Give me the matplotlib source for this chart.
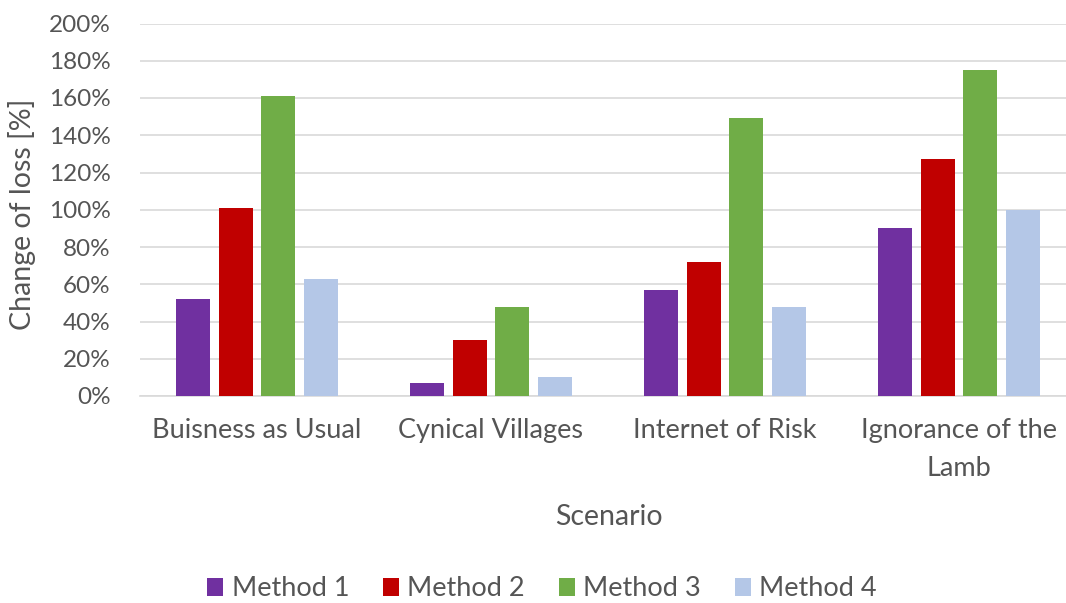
import matplotlib
matplotlib.use("Agg")
import matplotlib.pyplot as plt
from matplotlib.patches import Patch
import numpy as np

plt.rcParams['font.family'] = ['Lato', 'DejaVu Sans']

scenarios = ["Buisness as Usual", "Cynical Villages", "Internet of Risk", "Ignorance of the\nLamb"]
methods = ["Method 1", "Method 2", "Method 3", "Method 4"]
method1 = [52, 7, 57, 90]
method2 = [101, 30, 72, 127]
method3 = [161, 48, 149, 175]
method4 = [63, 10, 48, 100]
series = [method1, method2, method3, method4]
colors = ["#7030A0", "#C00000", "#70AD47", "#B4C7E7"]
yticks = [0, 20, 40, 60, 80, 100, 120, 140, 160, 180, 200]

text_color = "#555555"
W, H = 1066, 603
fig = plt.figure(figsize=(W / 100, H / 100), dpi=100)
ax = fig.add_axes([140 / W, 1 - 396 / H, (1066 - 140) / W, (396 - 23.5) / H])

x = np.arange(len(scenarios))
pitch = 0.1816
width = 0.146
for i, (vals, col) in enumerate(zip(series, colors)):
    ax.bar(x + (i - 1.5) * pitch, vals, width=width, color=col, zorder=3,
           label=methods[i])

ax.set_xlim(-0.5, -0.5 + (1066 - 140) / 234)
ax.set_ylim(0, 200)
ax.set_yticks(yticks)
ax.set_yticklabels([f"{v}%" for v in yticks])
ax.set_xticks(x)
ax.set_xticklabels(scenarios, linespacing=1.65)
ax.yaxis.grid(True, color="#D9D9D9", linewidth=1.2, zorder=0)
ax.set_axisbelow(True)
for side in ["top", "right", "left"]:
    ax.spines[side].set_visible(False)
ax.spines["bottom"].set_color("#D9D9D9")
ax.spines["bottom"].set_linewidth(1.2)
ax.tick_params(axis="both", length=0, colors=text_color)
ax.tick_params(axis="y", labelsize=17.5, pad=21)
ax.tick_params(axis="x", labelsize=19.5, pad=16)

fig.text(22 / W, 1 - 214 / H, "Change of loss [%]", rotation=90, ha="center",
         va="center", fontsize=20.5, color=text_color)
fig.text(609 / W, 1 - 517 / H, "Scenario", ha="center", va="center",
         fontsize=20.5, color=text_color)

handles = [Patch(facecolor=c, edgecolor="none") for c in colors]
fig.legend(handles, methods, loc="center", bbox_to_anchor=(542 / W, 1 - 589 / H),
           ncol=4, frameon=False, fontsize=19.5, labelcolor=text_color,
           handlelength=0.6, handleheight=0.6, handletextpad=0.3,
           columnspacing=1.25)

fig.savefig("out.png", dpi=100)
